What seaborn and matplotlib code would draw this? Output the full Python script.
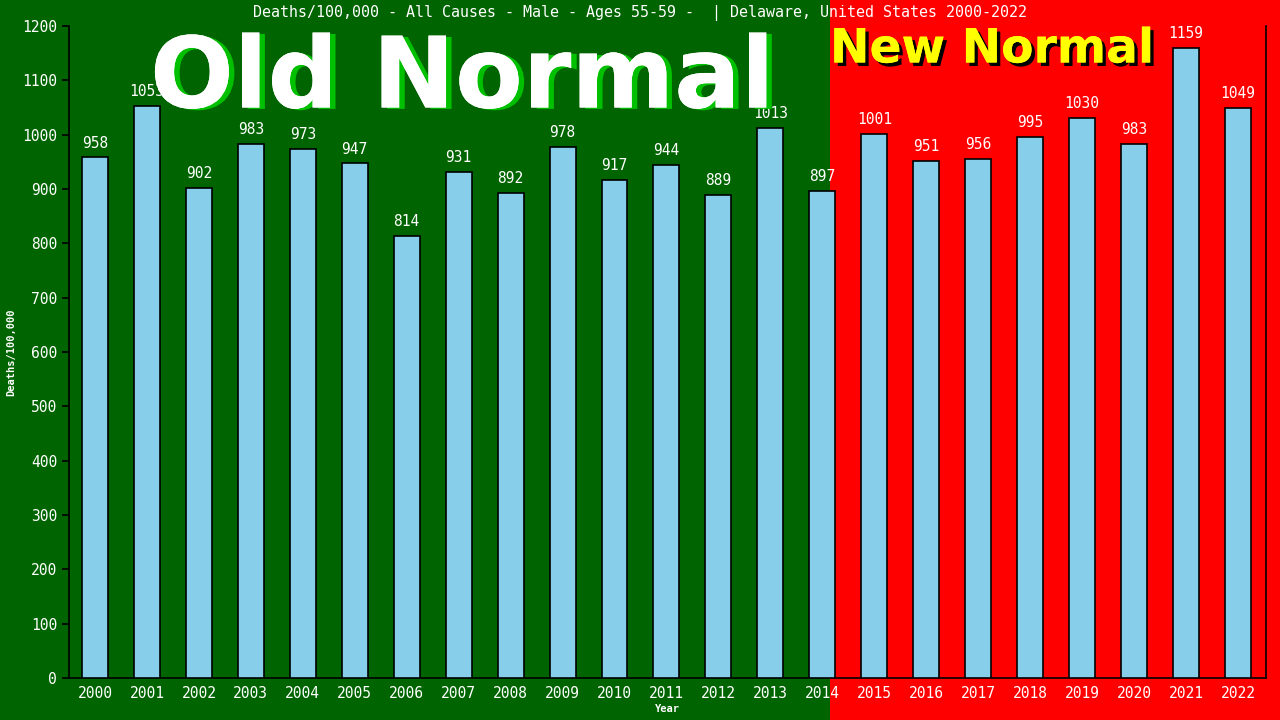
import matplotlib
matplotlib.use('Agg')
import matplotlib.pyplot as plt
import matplotlib.patches as mpatches
import matplotlib.patheffects as pe
import seaborn as sns

years = [str(y) for y in range(2000, 2023)]
deaths = [958, 1053, 902, 983, 973, 947, 814, 931, 892, 978, 917, 944,
          889, 1013, 897, 1001, 951, 956, 995, 1030, 983, 1159, 1049]

title = 'Deaths/100,000 - All Causes - Male - Ages 55-59 -  | Delaware, United States 2000-2022'
mono = 'DejaVu Sans Mono'

sns.set_style('ticks')
fig = plt.figure(figsize=(12.8, 7.2), dpi=100)
fig.patch.set_facecolor('#006400')

# background: green left, red "new normal" zone on the right
bg = fig.add_axes([0, 0, 1, 1], zorder=-1)
bg.set_xlim(0, 1280)
bg.set_ylim(0, 720)
bg.axis('off')
bg.add_patch(mpatches.Rectangle((830, 0), 450, 720, facecolor='#ff0000', edgecolor='none'))

ax = fig.add_axes([69 / 1280, 42 / 720, 1197 / 1280, 652 / 720])
ax.set_facecolor('none')

sns.barplot(x=years, y=deaths, color='#87ceeb', edgecolor='black',
            linewidth=1.2, width=0.5, saturation=1, ax=ax, zorder=3)

for i, v in enumerate(deaths):
    ax.annotate(str(v), (i, v), xytext=(0, 5), textcoords='offset points',
                ha='center', va='bottom', color='white', fontsize=10.5,
                family=mono, zorder=4)

ax.set_ylim(0, 1200)
ax.set_xlim(-0.5, 22.54)
ax.set_yticks(range(0, 1201, 100))
ax.tick_params(axis='y', colors='black', labelcolor='white', labelsize=10.5,
               length=5, width=1.2)
ax.tick_params(axis='x', length=0, labelcolor='white', labelsize=10.5, pad=6)
for lab in ax.get_xticklabels() + ax.get_yticklabels():
    lab.set_family(mono)
for s in ['left', 'bottom', 'right']:
    ax.spines[s].set_color('black')
    ax.spines[s].set_linewidth(1.2)
ax.spines['top'].set_visible(False)

ax.set_xlabel('Year', color='white', fontsize=7.5, family=mono, fontweight='bold', labelpad=2)
ax.set_ylabel('Deaths/100,000', color='white', fontsize=7.5, family=mono,
              fontweight='bold', labelpad=4)

fig.text(0.5, 1 - 13 / 720, title, ha='center', va='center', color='white',
         fontsize=10.8, family=mono)

fig.text(150 / 1280, 1 - 80 / 720, 'Old Normal', ha='left', va='center',
         color='white', fontsize=71, fontweight='bold', family='DejaVu Sans',
         path_effects=[pe.withSimplePatchShadow(offset=(4, -1), shadow_rgbFace='#00c000', alpha=1),
                       pe.Normal()])
fig.text(830 / 1280, 1 - 50 / 720, 'New Normal', ha='left', va='center',
         color='#ffff00', fontsize=34, fontweight='bold', family='DejaVu Sans',
         path_effects=[pe.withSimplePatchShadow(offset=(2.5, -2.5), shadow_rgbFace='black', alpha=1),
                       pe.Normal()])

fig.savefig('out.png', dpi=100, facecolor=fig.get_facecolor())
